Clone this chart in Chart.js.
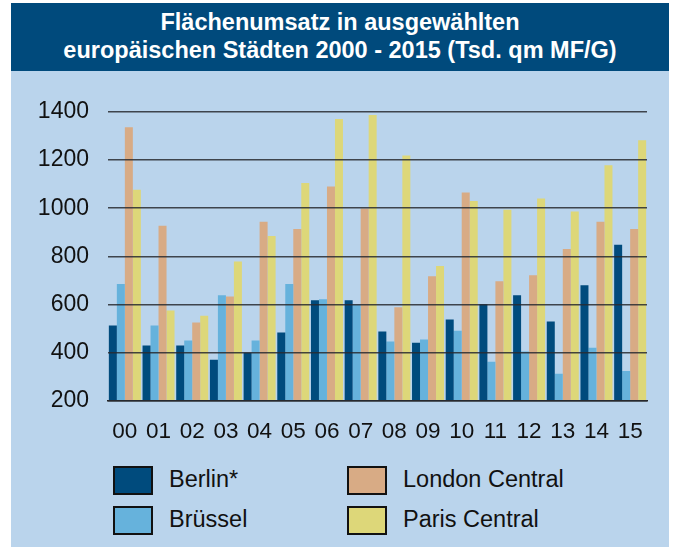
<!DOCTYPE html>
<html>
<head>
<meta charset="utf-8">
<script src="https://cdn.jsdelivr.net/npm/chart.js@4/dist/chart.umd.min.js"></script>
<style>
  body { margin: 0; background: #fff; font-family: "Liberation Sans", Arial, sans-serif; }
  #panel { position: absolute; left: 11px; top: 3px; width: 658px; height: 544px; background: #bad4ec; }
  #title { position: absolute; left: 0; top: 0; width: 658px; height: 68px; background: #004a7c;
           color: #fff; font-weight: bold; font-size: 23.5px; line-height: 28px; text-align: center;
           padding-top: 5px; box-sizing: border-box; }
  #wrap { position: absolute; left: 0; top: 76px; width: 658px; height: 383px; }
  #legend { position: absolute; left: 0; top: 0; }
  .item { position: absolute; font-size: 23.5px; color: #111; white-space: nowrap; }
  .box { position: absolute; width: 36px; height: 25px; border: 2px solid #111; }
  .lbl { position: absolute; left: 56px; top: 0px; }
</style>
</head>
<body>
<div id="panel">
  <div id="title">Flächenumsatz in ausgewählten<br>europäischen Städten 2000 - 2015 (Tsd. qm MF/G)</div>
  <div id="wrap"><canvas id="chart"></canvas></div>
  <div id="legend"></div>
</div>
<script>
const years = ['00','01','02','03','04','05','06','07','08','09','10','11','12','13','14','15'];
const berlin  = [513, 430, 430, 371, 400, 484, 618, 618, 488, 442, 538, 601, 639, 530, 680, 848];
const bruessel = [685, 513, 451, 639, 451, 685, 622, 601, 447, 455, 492, 363, 405, 313, 421, 325];
const london  = [1336, 927, 526, 634, 944, 914, 1090, 999, 589, 718, 1065, 697, 722, 831, 944, 914];
const paris   = [1077, 576, 554, 779, 885, 1105, 1370, 1387, 1219, 760, 1030, 994, 1040, 986, 1178, 1282];
const yTicks  = [200, 400, 600, 800, 1000, 1200, 1400];

const series = [
    { label: 'Berlin*', data: berlin, color: '#004b7d' },
    { label: 'Brüssel', data: bruessel, color: '#66b2dc' },
    { label: 'London Central', data: london, color: '#d8ab85' },
    { label: 'Paris Central', data: paris, color: '#ddd779' },
];

// legend in two columns, column-major like the original
const legendPos = [[102, 395], [102, 435], [336, 395], [336, 435]];
const legend = document.getElementById('legend');
series.forEach((s, i) => {
    const it = document.createElement('div');
    it.className = 'item';
    it.style.left = legendPos[i][0] + 'px';
    it.style.top = legendPos[i][1] + 68 + 'px';
    it.innerHTML = '<div class="box" style="background:' + s.color + '"></div><div class="lbl">' + s.label + '</div>';
    legend.appendChild(it);
});

new Chart(document.getElementById('chart'), {
    type: 'bar',
    data: {
        labels: years,
        datasets: series.map(s => ({
            label: s.label,
            data: s.data,
            backgroundColor: s.color,
            borderWidth: 0,
            categoryPercentage: 0.95,
            barPercentage: 1.0,
        }))
    },
    options: {
        responsive: true,
        maintainAspectRatio: false,
        animation: false,
        layout: { padding: { top: 30, right: 22, left: 0, bottom: 0 } },
        plugins: { legend: { display: false }, tooltip: { enabled: false } },
        scales: {
            x: {
                grid: { display: false, drawTicks: false },
                border: { color: '#222', width: 1.5, z: 1 },
                ticks: { color: '#111', font: { size: 22.5, family: 'Liberation Sans' }, padding: 17, maxRotation: 0, autoSkip: false },
            },
            y: {
                min: 200,
                max: 1400,
                afterBuildTicks: axis => { axis.ticks = yTicks.map(v => ({ value: v })); },
                afterFit: axis => { axis.width = 97; },
                grid: { color: 'rgba(40,42,48,0.85)', lineWidth: 1.5, drawTicks: false, z: 1 },
                border: { display: false },
                ticks: { color: '#111', font: { size: 23, family: 'Liberation Sans' }, padding: 19, callback: v => String(v) },
            }
        }
    }
});
</script>
</body>
</html>
